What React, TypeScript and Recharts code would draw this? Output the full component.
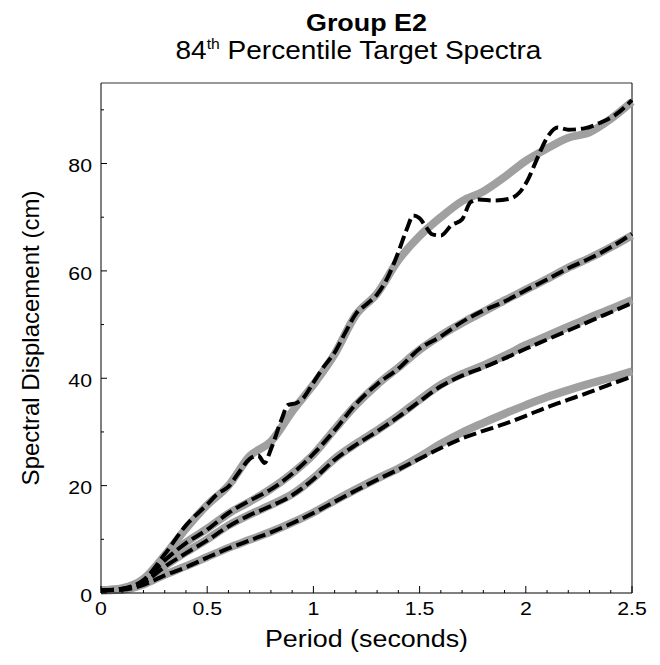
import { LineChart, Line, XAxis, YAxis, ReferenceLine } from "recharts";

// period grid (s) shared by the smooth curves
const periods = [0, 0.1, 0.2, 0.3, 0.4, 0.5, 0.6, 0.7, 0.8, 0.9, 1.0, 1.1, 1.2, 1.3, 1.4, 1.5, 1.6, 1.7, 1.8, 1.9, 2.0, 2.1, 2.2, 2.3, 2.4, 2.5];

// target spectra (grey) and matched spectra (black dashed), cm
const target1 = [0.5, 0.9, 2.6, 7, 12, 16.4, 20, 25.5, 28.2, 33.8, 38.8, 44.5, 51.8, 55.8, 62, 66.5, 70, 73, 74.8, 77.5, 80.5, 82.8, 84.8, 85.8, 88.3, 91.5];
const matchPeriods1 = [0, 0.1, 0.2, 0.3, 0.4, 0.5, 0.55, 0.6, 0.65, 0.7, 0.74, 0.77, 0.8, 0.85, 0.88, 0.92, 0.95, 1.0, 1.05, 1.1, 1.15, 1.2, 1.25, 1.3, 1.35, 1.4, 1.44, 1.47, 1.5, 1.53, 1.56, 1.6, 1.65, 1.7, 1.74, 1.78, 1.85, 1.92, 1.97, 2.01, 2.05, 2.1, 2.15, 2.2, 2.28, 2.35, 2.42, 2.5];
const match1 = [0.5, 0.8, 2.4, 7.2, 12.6, 16.5, 18.5, 19.8, 22.5, 25, 25.6, 24.2, 26.8, 32.3, 35, 35.4, 36.2, 39.2, 42.2, 44.8, 48.5, 52, 53.8, 55.6, 58.8, 63.5, 67.8, 70.3, 69.8, 68.2, 66.8, 66.6, 68.5, 69.6, 72.8, 73.3, 73.1, 73.4, 74.6, 77, 80.6, 84.8, 86.7, 86.3, 86.6, 87.6, 89, 91.8];

const target2 = [0.5, 0.8, 2.4, 6, 9.4, 12, 14.8, 17, 19.4, 22.3, 25.8, 30.5, 35, 38.8, 42, 45.3, 48, 50.3, 52.4, 54.5, 56.5, 58.5, 60.6, 62.4, 64.4, 66.6];
const match2 = [0.5, 0.8, 2.3, 6.1, 9.3, 11.8, 14.9, 17.2, 19.3, 22.2, 25.9, 30.3, 35.2, 38.9, 41.8, 45.5, 47.8, 50.5, 52.6, 54.3, 56.4, 58.4, 60.5, 62.3, 64.4, 66.9];

const target3 = [0.5, 0.7, 2.0, 5.0, 7.6, 10.0, 12.6, 14.6, 16.4, 18.4, 21.4, 25.0, 27.8, 30.3, 33.0, 36.0, 38.8, 40.8, 42.4, 44.2, 46.2, 47.9, 49.6, 51.3, 52.9, 54.6];
const match3 = [0.5, 0.7, 1.9, 4.9, 7.4, 9.8, 12.4, 14.5, 16.2, 18.2, 21.2, 24.8, 27.6, 30.1, 32.8, 35.7, 38.5, 40.5, 42.0, 43.7, 45.5, 47.2, 48.9, 50.6, 52.3, 54.0];

const target4 = [0.5, 0.6, 1.6, 3.4, 5.0, 6.7, 8.4, 9.9, 11.4, 13.1, 15.0, 17.2, 19.3, 21.3, 23.2, 25.4, 27.8, 29.9, 31.7, 33.4, 35.0, 36.5, 37.8, 39.0, 40.1, 41.3];
const match4 = [0.5, 0.6, 1.5, 3.3, 4.8, 6.6, 8.3, 9.8, 11.3, 13.0, 14.9, 17.0, 19.1, 21.1, 23.0, 25.0, 27.0, 28.8, 30.2, 31.5, 33.0, 34.6, 36.0, 37.4, 38.9, 40.3];

// ticks: every value gets a tick mark, only the labelled ones get text
const xTicks = [0, 0.1, 0.2, 0.3, 0.4, 0.5, 0.6, 0.7, 0.8, 0.9, 1, 1.1, 1.2, 1.3, 1.4, 1.5, 1.6, 1.7, 1.8, 1.9, 2, 2.1, 2.2, 2.3, 2.4, 2.5];
const xLabels = [0, 0.5, 1, 1.5, 2, 2.5];
const yTicks = [0, 10, 20, 30, 40, 50, 60, 70, 80, 90];
const yLabels = [0, 20, 40, 60, 80];

const FONT = '"Liberation Sans", Arial, Helvetica, sans-serif';
const GREY = "#a0a0a0";
const WIDEN = 1.12; // the original's lettering is a bit wider than Arial

const toPoints = (xs: number[], ys: number[]) => xs.map((t, i) => ({ t, v: ys[i] }));

const targets = [target1, target2, target3, target4].map((ys) => toPoints(periods, ys));
const matches = [toPoints(matchPeriods1, match1), toPoints(periods, match2), toPoints(periods, match3), toPoints(periods, match4)];

// eslint-disable-next-line @typescript-eslint/no-explicit-any
function XTick({ x, y, payload }: any) {
  const major = xLabels.some((v) => Math.abs(v - payload.value) < 1e-6);
  return (
    <g>
      <line x1={x} x2={x} y1={y} y2={y - (major ? 7 : 3)} stroke="#000" />
      {major && (
        <text transform={`translate(${x},${y + 22}) scale(${WIDEN},1)`} textAnchor="middle" fontSize={19} fontFamily={FONT} fill="#000">
          {payload.value}
        </text>
      )}
    </g>
  );
}

// eslint-disable-next-line @typescript-eslint/no-explicit-any
function YTick({ x, y, payload }: any) {
  const major = yLabels.includes(payload.value);
  return (
    <g>
      <line x1={x} x2={x + (major ? 6 : 3)} y1={y} y2={y} stroke="#000" />
      {major && (
        <text transform={`translate(${x - 9},${y + 2}) scale(${WIDEN},1)`} dy="0.35em" textAnchor="end" fontSize={19} fontFamily={FONT} fill="#000">
          {payload.value}
        </text>
      )}
    </g>
  );
}

// eslint-disable-next-line @typescript-eslint/no-explicit-any
function XAxisTitle({ viewBox }: any) {
  const cx = viewBox.x + viewBox.width / 2;
  const by = viewBox.y + viewBox.height - 6;
  return (
    <text transform={`translate(${cx},${by}) scale(${WIDEN},1)`} textAnchor="middle" fontSize={24} fontFamily={FONT} fill="#000">
      Period (seconds)
    </text>
  );
}

export default function App() {
  const titleStyle = { position: "absolute" as const, width: 531, textAlign: "center" as const, lineHeight: "24px", transform: `scaleX(${WIDEN})` };
  return (
    <div style={{ position: "absolute", left: 0, top: 0, width: 660, height: 665, background: "#fff", fontFamily: FONT }}>
      <div style={{ ...titleStyle, left: 101, top: 11, fontSize: 24, fontWeight: "bold" }}>Group E2</div>
      <div style={{ ...titleStyle, left: 93, top: 38, fontSize: 25 }}>
        84<span style={{ fontSize: 14, position: "relative", top: -10 }}>th</span> Percentile Target Spectra
      </div>
      <LineChart width={660} height={665} margin={{ top: 83, right: 28, left: 21, bottom: 12 }}>
        <XAxis
          dataKey="t"
          type="number"
          domain={[0, 2.5]}
          ticks={xTicks}
          interval={0}
          tickSize={0}
          tickMargin={0}
          tickLine={false}
          tick={<XTick />}
          height={60}
          stroke="#000"
          allowDuplicatedCategory={false}
          label={<XAxisTitle />}
        />
        <YAxis
          type="number"
          domain={[0, 95]}
          ticks={yTicks}
          interval={0}
          tickSize={0}
          tickMargin={0}
          tickLine={false}
          tick={<YTick />}
          width={80}
          stroke="#000"
          label={{ value: "Spectral Displacement (cm)", angle: -90, position: "insideLeft", offset: 9, fontSize: 24, fontFamily: FONT, fill: "#000", style: { textAnchor: "middle" } }}
        />
        <ReferenceLine y={95} stroke="#777" strokeWidth={1.5} />
        <ReferenceLine x={2.5} stroke="#000" />
        {targets.map((d, i) => (
          <Line key={`target${i}`} data={d} dataKey="v" type="monotone" stroke={GREY} strokeWidth={8} dot={false} activeDot={false} isAnimationActive={false} />
        ))}
        {matches.map((d, i) => (
          <Line key={`match${i}`} data={d} dataKey="v" type="monotone" stroke="#000" strokeWidth={4} strokeDasharray="13 5" dot={false} activeDot={false} isAnimationActive={false} />
        ))}
      </LineChart>
    </div>
  );
}
